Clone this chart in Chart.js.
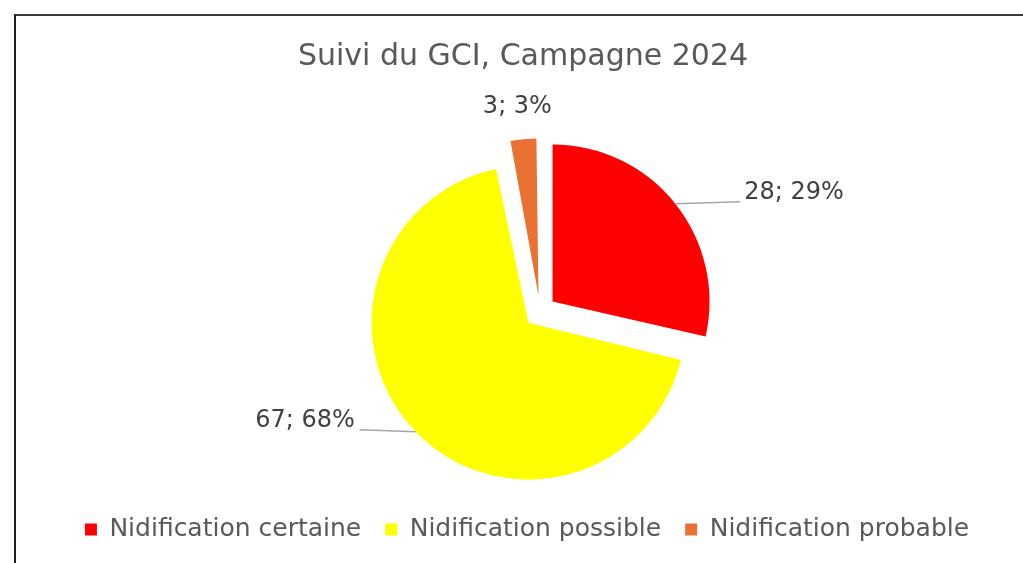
<!DOCTYPE html>
<html lang="fr">
<head>
<meta charset="utf-8">
<title>Suivi du GCI, Campagne 2024</title>
<script src="https://cdn.jsdelivr.net/npm/chart.js@4.4.1/dist/chart.umd.min.js"></script>
<style>
  html, body { margin: 0; padding: 0; background: #fff; overflow: hidden; }
  #wrap { position: relative; width: 1023px; height: 563px; }
  #cadre { position: absolute; left: 14px; top: 14px; right: -10px; bottom: -10px;
           border-top: 2px solid #3b3b3b; border-left: 2px solid #1e1e1e; pointer-events: none; }
</style>
</head>
<body>
<div id="wrap">
  <canvas id="graphGCI" width="1023" height="563"></canvas>
  <div id="cadre"></div>
</div>
<script>
const categories = ['Nidification certaine', 'Nidification possible', 'Nidification probable'];
const effectifs = [28, 67, 3];
const couleurs = ['#FF0000', '#FFFF00', '#E97132'];

const total = effectifs.reduce((a, b) => a + b, 0);

// Chart.js grossit le rayon des parts éclatées (offset/4 * fix) : on le compense
// pour que toutes les parts gardent le même rayon comme dans Excel
const memeRayon = {
    id: 'memeRayon',
    afterDatasetUpdate(chart, args) {
        args.meta.data.forEach(arc => {
            const off = (arc.options.offset || 0) / 4;
            const fix = 1 - Math.sin(Math.min(Math.PI, arc.circumference || 0));
            arc.outerRadius -= off * fix;
        });
    }
};

// étiquettes "valeur; %" avec trait de rappel
const etiquettes = {
    id: 'etiquettes',
    afterDatasetsDraw(chart, args, opts) {
        const ctx = chart.ctx;
        const meta = chart.getDatasetMeta(0);
        ctx.save();
        ctx.font = '24px "DejaVu Sans"';
        ctx.fillStyle = '#404040';
        ctx.strokeStyle = '#a6a6a6';
        ctx.lineWidth = 1.5;
        meta.data.forEach((arc, i) => {
            const off = (arc.options.offset || 0) / 4;
            const fix = 1 - Math.sin(Math.min(Math.PI, arc.circumference));
            const mid = (arc.startAngle + arc.endAngle) / 2;
            const r = arc.outerRadius + off * fix;
            const ex = arc.x + Math.cos(mid) * (off + r);
            const ey = arc.y + Math.sin(mid) * (off + r);
            const pos = opts.positions[i];
            const tx = ex + pos.dx, ty = ey + pos.dy;
            const texte = effectifs[i] + '; ' + Math.round(effectifs[i] / total * 100) + '%';
            if (pos.ligne) {
                ctx.beginPath();
                ctx.moveTo(ex, ey);
                ctx.lineTo(tx + (pos.align === 'left' ? -4 : 5), ey - 2);
                ctx.stroke();
            }
            ctx.textAlign = pos.align;
            ctx.textBaseline = 'middle';
            ctx.fillText(texte, tx, ty);
        });
        ctx.restore();
    }
};

// recentre titre et légende (le camembert est décalé à droite dans Excel)
const recentrage = {
    id: 'recentrage',
    afterLayout(chart, args, opts) {
        chart.titleBlock.left += opts.titre;
        chart.titleBlock.right += opts.titre;
        chart.legend.left += opts.legende;
        chart.legend.right += opts.legende;
    }
};

const ctx = document.getElementById('graphGCI');
const graph = new Chart(ctx, {
    type: 'pie',
    data: {
        labels: categories,
        datasets: [{
            data: effectifs,
            backgroundColor: couleurs,
            borderWidth: 0,
            offset: 64,
            hoverOffset: 0
        }]
    },
    plugins: [memeRayon, etiquettes, recentrage],
    options: {
        responsive: false,
        animation: false,
        radius: 157,
        layout: {
            padding: { left: 57, right: 0, top: 0, bottom: 11 }
        },
        plugins: {
            title: {
                display: true,
                text: 'Suivi du GCI, Campagne 2024',
                color: '#595959',
                font: { family: 'DejaVu Sans', size: 30, weight: 'normal' },
                padding: { top: 39, bottom: 55 }
            },
            legend: {
                position: 'bottom',
                labels: {
                    boxWidth: 12,
                    boxHeight: 12,
                    padding: 24,
                    color: '#595959',
                    font: { family: 'DejaVu Sans', size: 25 }
                }
            },
            tooltip: { enabled: false },
            etiquettes: {
                positions: [
                    { dx: 69, dy: -11, align: 'left', ligne: true },
                    { dx: -61, dy: -11, align: 'right', ligne: true },
                    { dx: -6, dy: -33, align: 'center', ligne: false }
                ]
            },
            recentrage: { titre: -17, legende: -13 }
        }
    }
});
</script>
</body>
</html>
